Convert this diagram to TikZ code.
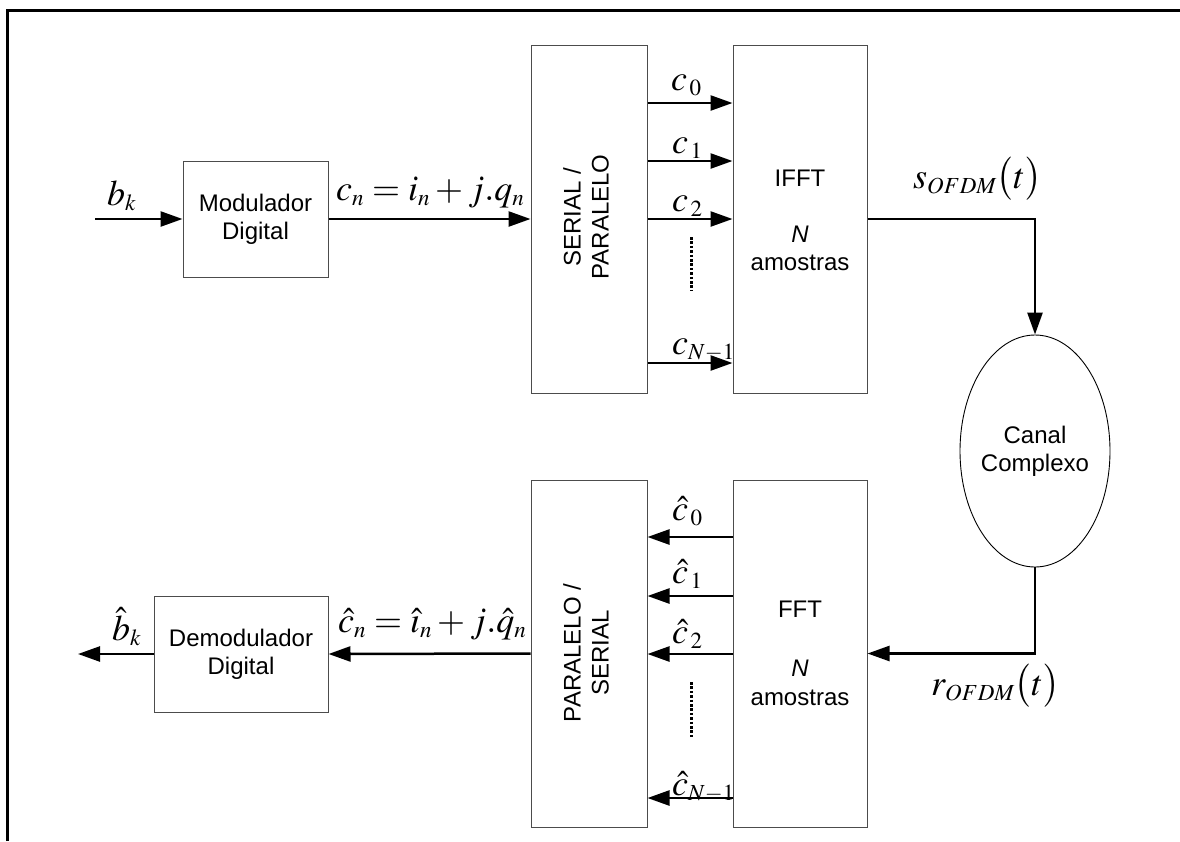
\documentclass[tikz,border=0pt]{standalone}
\usepackage{mathptmx}
\usepackage[no-math]{fontspec}
\setmainfont{Liberation Sans}
\usetikzlibrary{arrows.meta,shapes.geometric}
\DeclareMathSizes{36}{36}{23}{16}
\begin{document}
\begin{tikzpicture}[x=1pt,y=-1pt,
  blk/.style={draw=black!70, line width=1pt, inner sep=0pt, fill=white},
  sig/.style={line width=2.5pt, -{Triangle[length=22pt,width=15pt]}},
  lbl/.style={font=\fontsize{24}{28}\selectfont, align=center, inner sep=0pt},
  mth/.style={font=\fontsize{36}{40}\selectfont, inner sep=0pt, anchor=base west},
  dotline/.style={line width=3pt, dash pattern=on 2.6pt off 1.8pt}]
\useasboundingbox (0,0) rectangle (1180,841);
\fill[white] (0,0) rectangle (1180,841);
% frame
\draw[line width=3pt] (7,841) -- (7,10) -- (1180,10);

% blocks
\node[blk, minimum width=145pt, minimum height=116pt] (mod) at (255.5,219) {};
\node[blk, minimum width=174pt, minimum height=116pt] (dem) at (241,654) {};
\node[blk, minimum width=116pt, minimum height=348pt] (sp) at (589,219) {};
\node[blk, minimum width=134pt, minimum height=348pt] (ifft) at (800,219) {};
\node[blk, minimum width=116pt, minimum height=347pt] (ps) at (589,653.5) {};
\node[blk, minimum width=134pt, minimum height=347pt] (fft) at (800,653.5) {};
\node[draw=black, line width=0.9pt, ellipse, minimum width=150pt, minimum height=232pt, inner sep=0pt] (canal) at (1035,451) {};

% block texts
\node[lbl] (tmod) at (mod.center) {Modulador\\Digital};
\node[lbl] (tdem) at (dem.center) {Demodulador\\Digital};
\node[lbl, rotate=90] (tsp) at (586,217) {SERIAL /\\PARALELO};
\node[lbl, rotate=90] (tps) at (586,653) {PARALELO /\\SERIAL};
\node[lbl] (tifft) at (800,178) {IFFT};
\node[lbl] (tn1) at (800,234) {\textit{N}};
\node[lbl] (tam1) at (800,263) {amostras};
\node[lbl] (tfft) at (800,609) {FFT};
\node[lbl] (tn2) at (800,668) {\textit{N}};
\node[lbl] (tam2) at (800,698) {amostras};
\node[lbl] (tcanal) at (1035,451) {Canal\\Complexo};

% connectors
\coordinate (in) at (95,219);
\coordinate (out) at (78,654);
\draw[sig] (in) -- (mod.west);
\draw[sig] (mod.east) -- (sp.west);
\foreach \yy in {103,161,219,363}{
  \draw[sig] (sp.east |- 0,\yy) -- (ifft.west |- 0,\yy);
}
\draw[sig] (ifft.east) -| (canal.north);
\draw[sig] (canal.south) |- (fft.east);
\foreach \yy in {537,596,654,798}{
  \draw[sig] (fft.west |- 0,\yy) -- (ps.east |- 0,\yy);
}
\draw[sig] (ps.west) -- (dem.east);
\draw[sig] (dem.west) -- (out);

% dotted
\coordinate (d1a) at (691,237); \coordinate (d1b) at (691,290);
\coordinate (d2a) at (691,682); \coordinate (d2b) at (691,738);
\draw[dotline] (d1a) -- (d1b);
\draw[dotline] (d2a) -- (d2b);

% math labels
\node[mth] (lbk) at (107,205) {$b_k$};
\node[mth] (lcn) at (336,200) {$c_n = i_n + j.q_n$};
\node[mth] (lc0) at (671,90) {$c_{\,0}$};
\node[mth] (lc1) at (672,153) {$c_{\,1}$};
\node[mth] (lc2) at (672,211) {$c_{\,2}$};
\node[mth] (lcN) at (672,354) {$c_{N-1}$};
\node[mth] (ls) at (913,188) {$s_{OFDM}\bigl(t\bigr)$};
\node[mth] (lr) at (931,695) {$r_{OFDM}\bigl(t\bigr)$};
\node[mth] (lh0) at (672,520) {$\hat{c}_{\,0}$};
\node[mth] (lh1) at (672,583) {$\hat{c}_{\,1}$};
\node[mth] (lh2) at (672,643) {$\hat{c}_{\,2}$};
\node[mth] (lhN) at (672,795) {$\hat{c}_{N-1}$};
\node[mth] (lhcn) at (338,632) {$\hat{c}_n = \hat{\imath}_n + j.\hat{q}_n$};
\node[mth] (lhbk) at (112,640) {$\hat{b}_k$};
\end{tikzpicture}
\end{document}
